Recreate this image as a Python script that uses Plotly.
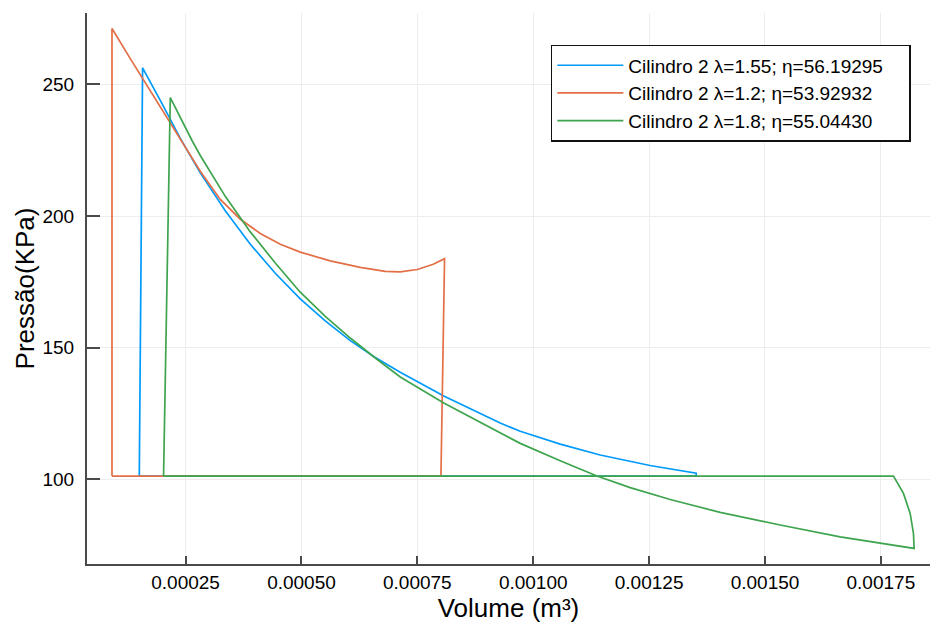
import plotly.graph_objects as go

# ---- data (volume in m^3, pressure in kPa) ----
blue_name = "Cilindro 2 λ=1.55; η=56.19295"
blue_v = [0.0001501, 0.0001572, 0.0001954, 0.0002386, 0.0002817, 0.0003356, 0.0003896,
          0.0004435, 0.0004974, 0.0005513, 0.0006053, 0.0006592, 0.0007131, 0.000808,
          0.0009288, 0.000972, 0.0010582, 0.0011445, 0.001252, 0.0013516, 0.0013516, 0.0001501]
blue_p = [101.3, 256.3, 243.9, 229.5, 216.4, 202.0, 189.3,
          178.3, 168.6, 160.2, 152.7, 146.3, 140.7, 131.6,
          121.4, 118.3, 113.4, 109.3, 105.3, 102.4, 101.3, 101.3]

orange_name = "Cilindro 2 λ=1.2; η=53.92932"
orange_v = [0.0000912, 0.0000912, 0.0001307, 0.0001739, 0.000217, 0.0002494, 0.0002817,
            0.0003248, 0.000368, 0.0004111, 0.0004543, 0.0004974, 0.0005621, 0.0006268,
            0.0006807, 0.0007131, 0.0007498, 0.0007843, 0.0008087, 0.0008009, 0.0000912]
orange_p = [101.3, 271.2, 259.8, 247.5, 235.4, 226.4, 217.0,
            206.3, 198.8, 193.4, 189.3, 186.3, 183.0, 180.5,
            179.0, 178.8, 179.7, 181.7, 183.8, 101.3, 101.3]

green_name = "Cilindro 2 λ=1.8; η=55.04430"
green_v = [0.0002025, 0.000217, 0.0002638, 0.0002817, 0.0003356, 0.0003896, 0.0004435,
           0.0004974, 0.0005513, 0.0006053, 0.0006592, 0.0007131, 0.000808, 0.0009288,
           0.000972, 0.0010582, 0.0011374, 0.0012092, 0.0012955, 0.0014033, 0.0015328,
           0.0016622, 0.0017485, 0.0018218, 0.0018203, 0.0018132, 0.0017987, 0.0017772,
           0.0002025]
green_p = [101.3, 245.0, 228.7, 223.0, 207.5, 194.0, 182.2,
           171.1, 161.9, 153.7, 146.1, 138.9, 128.9, 117.5,
           113.7, 107.1, 101.3, 96.9, 92.4, 87.5, 82.7,
           78.2, 75.8, 73.8, 79.5, 87.1, 94.7, 101.3,
           101.3]

x_ticks = [0.00025, 0.00050, 0.00075, 0.00100, 0.00125, 0.00150, 0.00175]
x_tick_text = ["0.00025", "0.00050", "0.00075", "0.00100", "0.00125", "0.00150", "0.00175"]
y_ticks = [100, 150, 200, 250]

x_title = "Volume (m³)"
y_title = "Pressão(KPa)"

colors = {"blue": "#009AFA", "orange": "#E36F47", "green": "#3EA44E"}
pad = "\u00a0" * 4  # trailing blank room inside the legend box

fig = go.Figure()
for name, v, p, c in [(blue_name, blue_v, blue_p, colors["blue"]),
                      (orange_name, orange_v, orange_p, colors["orange"]),
                      (green_name, green_v, green_p, colors["green"])]:
    fig.add_trace(go.Scatter(x=v, y=p, mode="lines", name=name + pad,
                             line=dict(color=c, width=1.7)))

axis_col = "#4a4a4a"
fig.update_layout(
    width=930, height=625,
    margin=dict(l=87, r=0, t=13, b=61),
    paper_bgcolor="white", plot_bgcolor="white",
    font=dict(family="Liberation Sans, Arial, sans-serif", color="black", size=19),
    showlegend=True,
    legend=dict(x=0.5502, y=0.9421, xanchor="left", yanchor="top",
                bgcolor="white", bordercolor="#111111", borderwidth=1.5,
                font=dict(size=19), itemwidth=66, tracegroupgap=0),
)
fig.update_xaxes(
    range=[0.0000373, 0.001856], tickvals=x_ticks, ticktext=x_tick_text,
    showline=True, linecolor=axis_col, linewidth=2,
    ticks="inside", ticklen=8, tickwidth=1.5, tickcolor=axis_col,
    showgrid=True, gridcolor="#ededed", gridwidth=1, zeroline=False,
    title=dict(text=x_title, font=dict(size=26), standoff=6),
    tickfont=dict(size=19), mirror=False,
)
fig.update_yaxes(
    range=[67.9, 277.1], tickvals=y_ticks,
    showline=True, linecolor=axis_col, linewidth=2,
    ticks="inside", ticklen=13, tickwidth=1.5, tickcolor=axis_col,
    showgrid=True, gridcolor="#ededed", gridwidth=1, zeroline=False,
    title=dict(text=y_title, font=dict(size=26), standoff=0),
    tickfont=dict(size=19), ticklabelstandoff=7,
)

fig.write_html("out.html")
